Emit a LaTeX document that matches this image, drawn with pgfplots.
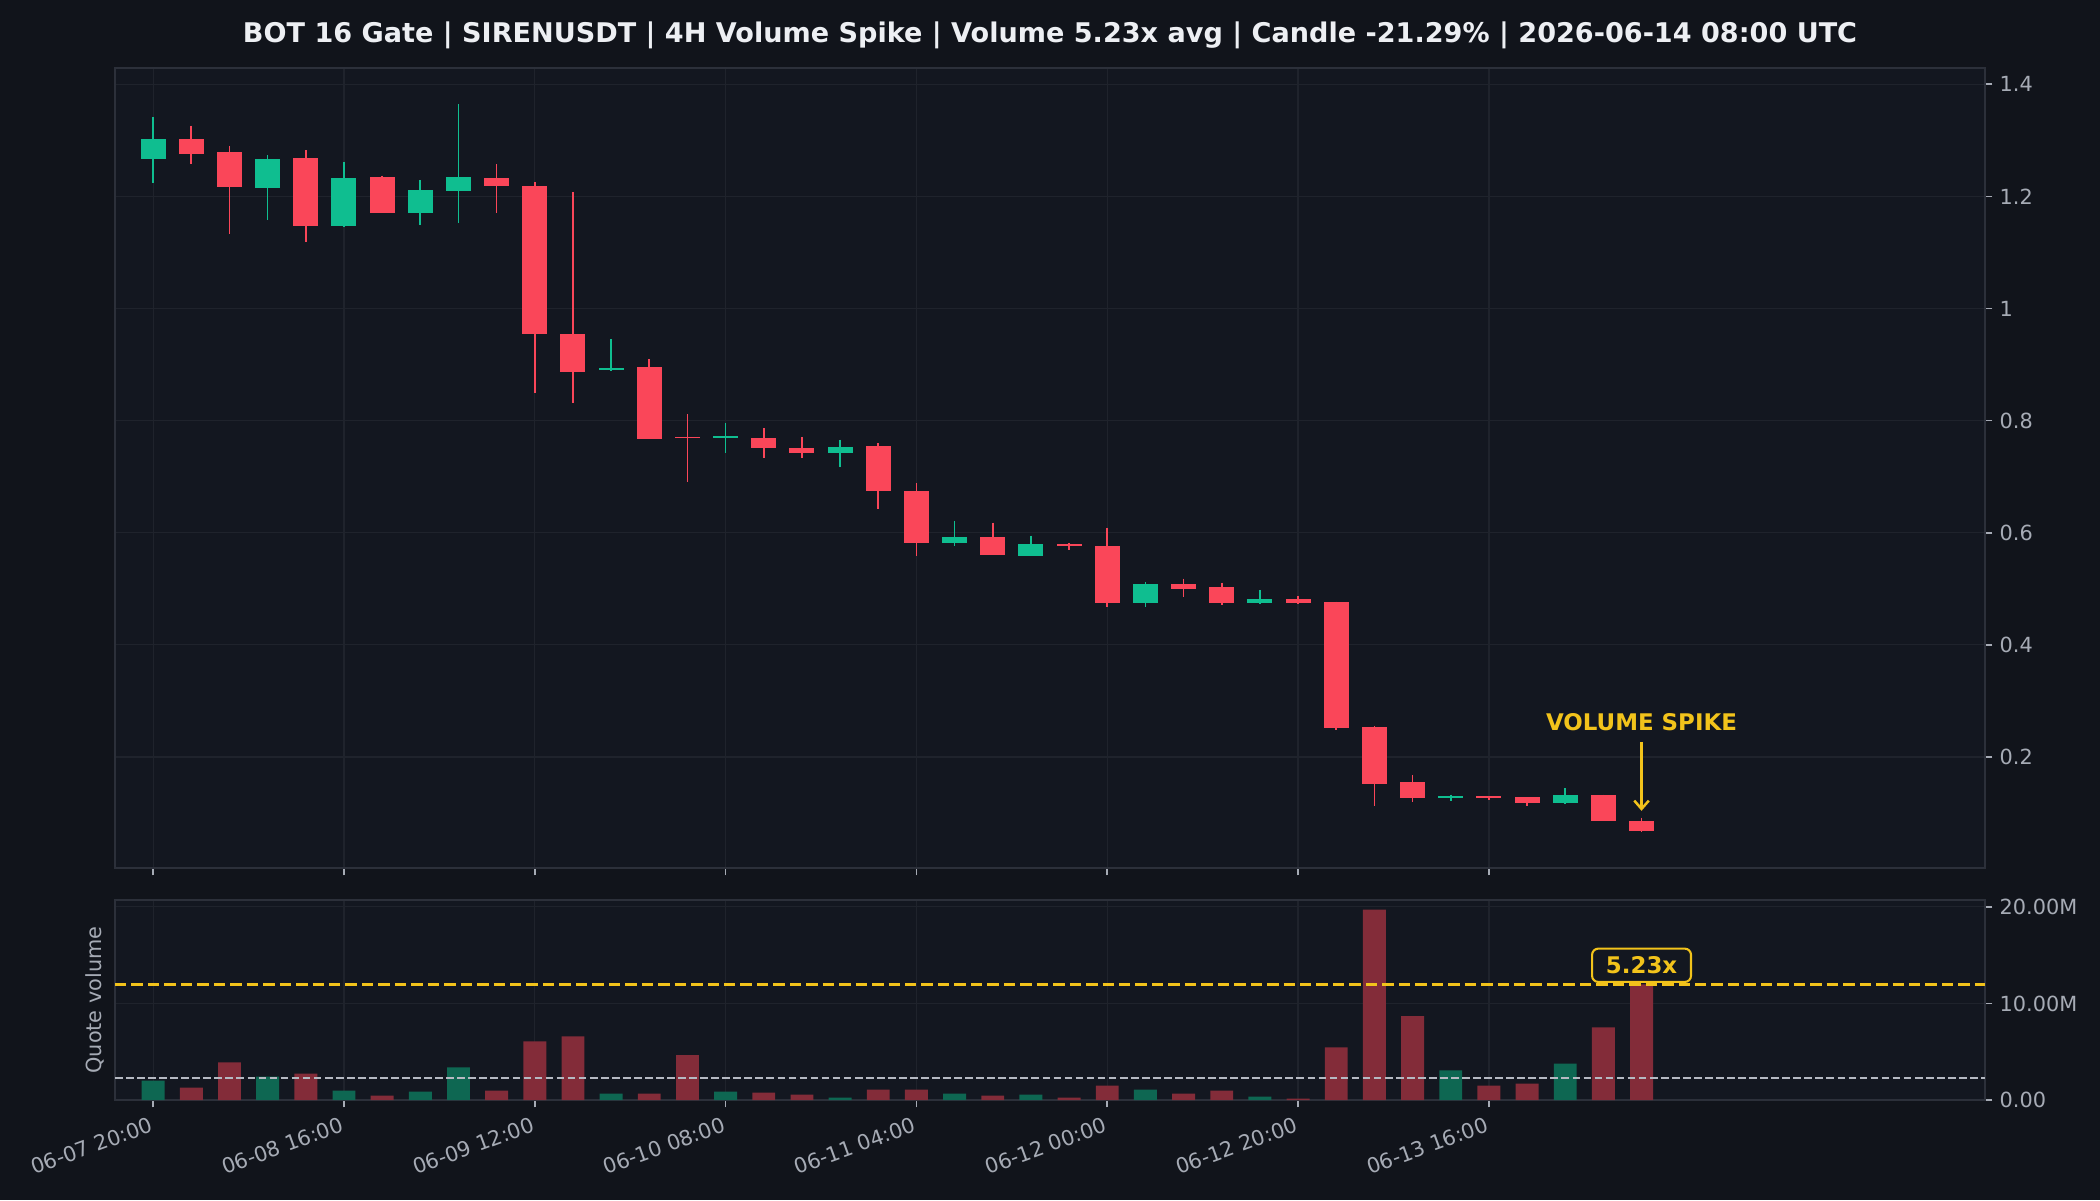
\documentclass[border=0pt]{standalone}
\usepackage{pgfplots}
\pgfplotsset{compat=1.18}
\usepackage{pgfplotstable}
\usepackage{fontspec}
\setmainfont{DejaVu Sans}
\usetikzlibrary{arrows.meta}

\definecolor{bgc}{HTML}{11141B}
\definecolor{axbg}{HTML}{131720}
\definecolor{framec}{HTML}{2C303A}
\definecolor{gridc}{HTML}{1F232C}
\definecolor{tickc}{HTML}{A6ABB5}
\definecolor{upc}{HTML}{0FBE90}
\definecolor{dnc}{HTML}{FA4659}
\definecolor{upv}{HTML}{0E6752}
\definecolor{dnv}{HTML}{832C39}
\definecolor{ylw}{HTML}{F2C31B}
\definecolor{avgc}{HTML}{B5B9C2}
\definecolor{titlec}{HTML}{EDEFF3}

% x o h l c v(M)
\pgfplotstableread{
x o h l c v
0 1.267 1.342 1.223 1.303 2.00
3 1.215 1.273 1.157 1.267 2.43
5 1.147 1.262 1.146 1.232 0.97
7 1.170 1.229 1.149 1.212 0.87
8 1.210 1.364 1.152 1.234 3.37
12 0.890 0.946 0.889 0.893 0.66
15 0.769 0.796 0.743 0.772 0.87
18 0.743 0.766 0.718 0.753 0.24
21 0.581 0.621 0.577 0.593 0.66
23 0.558 0.595 0.558 0.580 0.56
26 0.474 0.512 0.468 0.509 1.08
29 0.474 0.498 0.473 0.482 0.35
34 0.126 0.133 0.122 0.130 3.06
37 0.118 0.144 0.117 0.132 3.78
}\upT

\pgfplotstableread{
x o h l c v
1 1.303 1.326 1.257 1.276 1.28
2 1.280 1.290 1.133 1.217 3.89
4 1.269 1.282 1.118 1.147 2.74
6 1.234 1.237 1.170 1.170 0.45
9 1.232 1.257 1.171 1.218 0.97
10 1.218 1.226 0.849 0.954 6.08
11 0.955 1.208 0.832 0.887 6.60
13 0.896 0.910 0.768 0.768 0.66
14 0.771 0.811 0.690 0.769 4.65
16 0.769 0.786 0.733 0.751 0.76
17 0.751 0.771 0.733 0.743 0.56
19 0.754 0.760 0.643 0.674 1.08
20 0.675 0.688 0.559 0.581 1.08
22 0.593 0.618 0.560 0.560 0.45
24 0.580 0.582 0.570 0.576 0.24
25 0.577 0.609 0.467 0.474 1.49
27 0.509 0.518 0.485 0.500 0.66
28 0.504 0.511 0.472 0.474 0.97
30 0.482 0.4875 0.473 0.474 0.14
31 0.477 0.477 0.249 0.251 5.45
32 0.254 0.255 0.113 0.151 19.72
33 0.155 0.168 0.120 0.126 8.68
35 0.130 0.130 0.124 0.126 1.49
36 0.128 0.128 0.113 0.118 1.70
38 0.132 0.133 0.0855 0.0855 7.53
39 0.086 0.092 0.067 0.0677 11.98
}\dnT

\pgfplotsset{
  darkax/.style={
    scale only axis,
    anchor=south west,
    width=897.6pt,
    xmin=-1, xmax=48,
    axis background/.style={fill=axbg},
    axis line style={framec, line width=0.8pt},
    grid=major,
    grid style={gridc, line width=0.6pt},
    xtick={0,5,10,15,20,25,30,35},
    xtick pos=left, ytick pos=right,
    yticklabel pos=right,
    tick align=outside,
    major tick length=3.5pt,
    tick style={tickc, line width=0.8pt},
    ticklabel style={font=\fontsize{10}{12}\selectfont, text=tickc},
  },
  wick/.style={draw=none, mark=none, forget plot,
    error bars/.cd, y dir=minus, y explicit, error mark=none,
    error bar style={draw=#1, line width=0.8pt}},
  body/.style={draw=none, mark=none, forget plot,
    error bars/.cd, y dir=both, y explicit, error mark=none,
    error bar style={draw=#1, line width=12pt}},
}

\begin{document}
\begin{tikzpicture}[x=1pt,y=1pt]
\fill[bgc] (0,0) rectangle (1008,576);
\useasboundingbox (0,0) rectangle (1008,576);
\node[font=\bfseries\fontsize{13}{15}\selectfont, text=titlec] at (504,559.2)
  {BOT 16 Gate | SIRENUSDT | 4H Volume Spike | Volume 5.23x avg | Candle -21.29\% | 2026-06-14 08:00 UTC};

\begin{axis}[darkax, at={(55.2pt,159.36pt)}, height=384pt,
  ymin=0.002, ymax=1.429,
  ytick={0.2,0.4,0.6,0.8,1,1.2,1.4},
  yticklabels={0.2,0.4,0.6,0.8,1,1.2,1.4},
  xticklabels={}]
\addplot[wick=upc] table[x=x, y=h, y error minus expr=\thisrow{h}-\thisrow{l}] {\upT};
\addplot[wick=dnc] table[x=x, y=h, y error minus expr=\thisrow{h}-\thisrow{l}] {\dnT};
\addplot[body=upc] table[x=x, y expr=(\thisrow{o}+\thisrow{c})/2, y error expr={max(abs(\thisrow{o}-\thisrow{c})/2,0.0013)}] {\upT};
\addplot[body=dnc] table[x=x, y expr=(\thisrow{o}+\thisrow{c})/2, y error expr={max(abs(\thisrow{o}-\thisrow{c})/2,0.0013)}] {\dnT};
\node[font=\bfseries\fontsize{11}{13}\selectfont, text=ylw] at (axis cs:39,0.263) {VOLUME SPIKE};
\draw[ylw, line width=1.2pt, -{Straight Barb[length=4pt,width=7pt]}] (axis cs:39,0.227) -- (axis cs:39,0.104);
\end{axis}

\begin{axis}[darkax, at={(55.2pt,48pt)}, height=96pt,
  ymin=0, ymax=20.71,
  ytick={0,10,20},
  yticklabels={0.00,10.00M,20.00M},
  xticklabels={06-07 20:00,06-08 16:00,06-09 12:00,06-10 08:00,06-11 04:00,06-12 00:00,06-12 20:00,06-13 16:00},
  xticklabel style={rotate=20, anchor=north east},
  ylabel={Quote volume},
  ylabel style={at={(axis description cs:-0.0107,0.5)}, anchor=center, font=\fontsize{10}{12}\selectfont, text=tickc}]
\addplot[ybar, bar width=0.6, bar shift=0pt, fill=upv, draw=none] table[x=x, y=v] {\upT};
\addplot[ybar, bar width=0.6, bar shift=0pt, fill=dnv, draw=none] table[x=x, y=v] {\dnT};
\addplot[ylw, line width=1.2pt, dash pattern=on 5.5pt off 2.4pt] coordinates {(-1,11.98) (48,11.98)};
\addplot[avgc, line width=0.9pt, dash pattern=on 3.7pt off 1.6pt] coordinates {(-1,2.29) (48,2.29)};
\node[draw=ylw, rounded corners=3pt, fill=axbg, line width=1pt, text=ylw,
  font=\bfseries\fontsize{11}{13}\selectfont, minimum width=47.5pt, minimum height=16pt, inner sep=2pt]
  at (axis cs:39,13.95) {5.23x};
\end{axis}
\end{tikzpicture}
\end{document}
